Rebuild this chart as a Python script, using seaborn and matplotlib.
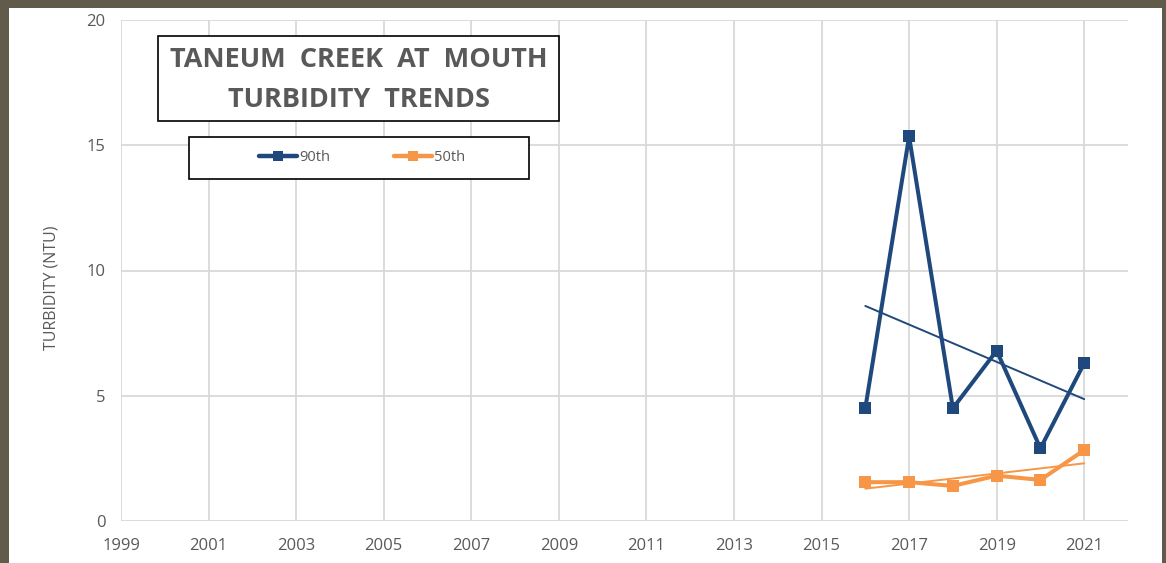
import numpy as np
import pandas as pd
import matplotlib
matplotlib.use('agg')
import matplotlib.pyplot as plt
from matplotlib.patches import Rectangle
from matplotlib.lines import Line2D
import seaborn as sns


years = [2016, 2017, 2018, 2019, 2020, 2021]
p90 = [4.5, 15.35, 4.5, 6.8, 2.9, 6.3]
p50 = [1.55, 1.55, 1.4, 1.81, 1.64, 2.83]
series_names = ["90th", "50th"]
colors = {"90th": "#1f497d", "50th": "#f79646"}
x_ticks = list(range(1999, 2022, 2))
y_ticks = [0, 5, 10, 15, 20]

W, H = 1166, 563
text_grey = "#595959"

sns.set_theme(style="white")
plt.rcParams['font.family'] = ['Open Sans', 'DejaVu Sans']

df = pd.DataFrame({"year": years * 2,
                   "value": p90 + p50,
                   "series": ["90th"] * len(years) + ["50th"] * len(years)})

fig = plt.figure(figsize=(W / 100, H / 100), dpi=100, facecolor="#615b4b")
# white panel inside the dark frame
fig.patches.append(Rectangle((9 / W, 0), 1153 / W, 555 / H,
                             transform=fig.transFigure, facecolor="white",
                             edgecolor="none", zorder=-5))

ax = fig.add_axes([121 / W, 1 - 521 / H, (1128 - 121) / W, (521 - 20) / H])
ax.set_facecolor("none")
ax.set_zorder(1)

# trend lines first (thin), then the series
for name, vals in zip(series_names, [p90, p50]):
    sns.regplot(x=np.array(years), y=np.array(vals), ax=ax, scatter=False,
                ci=None, color=colors[name], line_kws={"linewidth": 1.4})

sns.lineplot(data=df, x="year", y="value", hue="series", palette=colors,
             marker="s", markersize=9, markeredgewidth=0, linewidth=2.9,
             legend=False, ax=ax)

ax.set_xlim(1999, 2022)
ax.set_ylim(0, 20)
ax.set_xticks(x_ticks)
ax.set_yticks(y_ticks)
ax.grid(True, color="#d9d9d9", linewidth=1.3)
ax.set_axisbelow(True)
for s in ax.spines.values():
    s.set_visible(False)
ax.tick_params(axis="both", length=0, labelsize=12, labelcolor=text_grey)
ax.tick_params(axis="x", pad=12)
ax.tick_params(axis="y", pad=11)
ax.set_xlabel("")
ax.set_ylabel("")
fig.text(52 / W, 1 - 288 / H, "TURBIDITY (NTU)", rotation=90, ha="center",
         va="center", fontsize=11.5, color=text_grey)

# title box
fig.patches.append(Rectangle((158 / W, 1 - 121 / H), 401 / W, 85 / H,
                             transform=fig.transFigure, facecolor="white",
                             edgecolor="black", linewidth=1.2, zorder=5))
fig.text(358.5 / W, 1 - 60 / H, "TANEUM  CREEK  AT  MOUTH", ha="center",
         va="center", fontsize=19.5, fontweight="bold", color=text_grey,
         zorder=6)
fig.text(358.5 / W, 1 - 100 / H, "TURBIDITY  TRENDS", ha="center",
         va="center", fontsize=19.5, fontweight="bold", color=text_grey,
         zorder=6)

# legend box
fig.patches.append(Rectangle((189 / W, 1 - 179 / H), 340 / W, 42 / H,
                             transform=fig.transFigure, facecolor="white",
                             edgecolor="black", linewidth=1.2, zorder=5))
handles = [Line2D([], [], color=colors[n], linewidth=3.2, marker="s",
                  markersize=6.5, markeredgewidth=0) for n in series_names]
leg = fig.legend(handles, series_names, loc="center",
                 bbox_to_anchor=(362 / W, 1 - 158 / H), ncol=2, frameon=False,
                 fontsize=10.5, handlelength=2.6, handletextpad=0.15,
                 columnspacing=4.4, labelcolor=text_grey)
leg.set_zorder(6)

fig.savefig("out.png", dpi=100, facecolor=fig.get_facecolor())
